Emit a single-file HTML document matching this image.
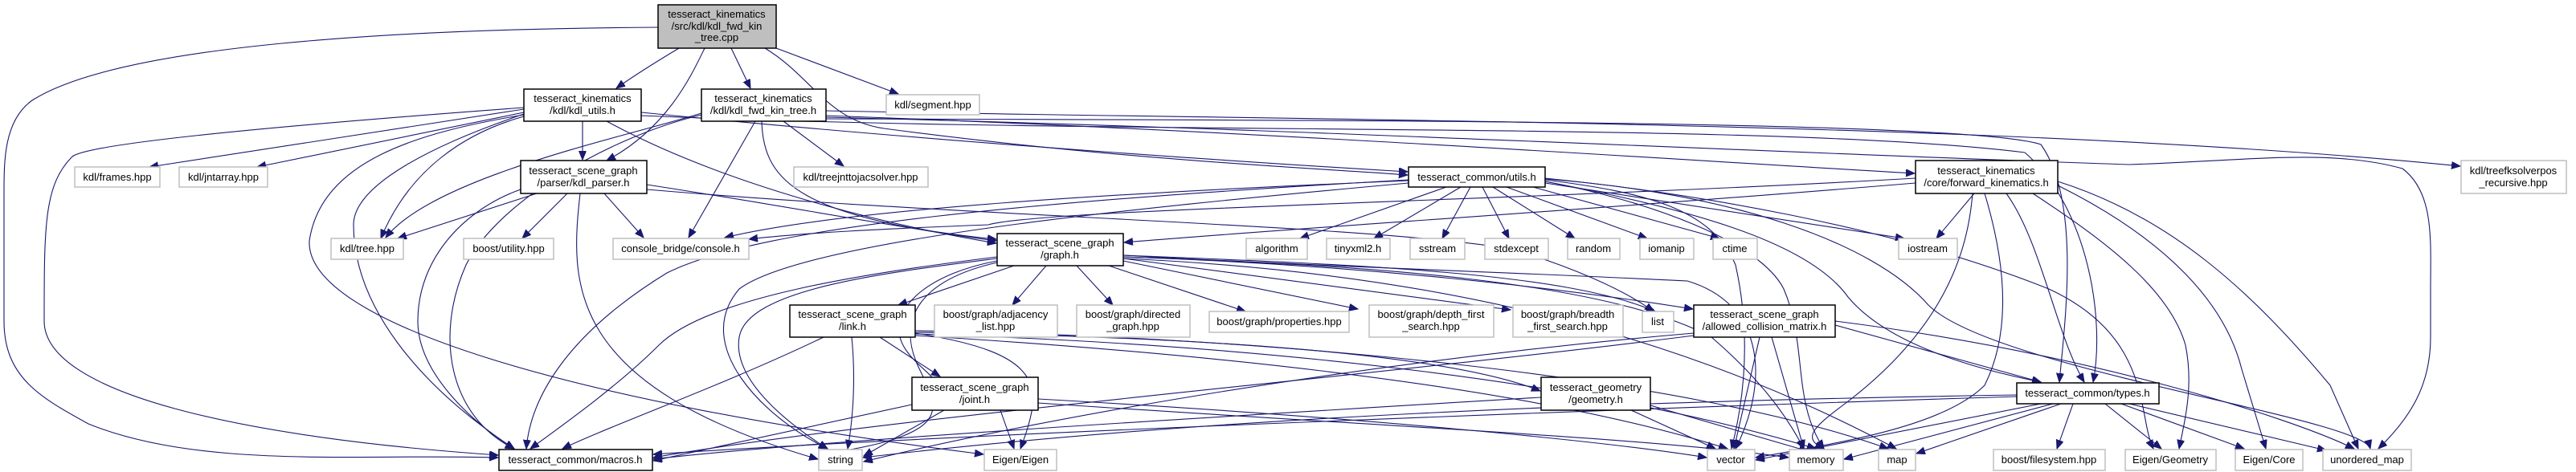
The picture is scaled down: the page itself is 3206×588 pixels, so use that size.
<!DOCTYPE html>
<html><head><meta charset="utf-8"><style>
html,body{margin:0;padding:0;background:#fff;}
svg{display:block;}
text{font-family:"Liberation Sans",sans-serif;font-size:13px;fill:#000;text-anchor:middle;}
.i{fill:#fff;stroke:#000;stroke-width:1.5;}
.e{fill:#fff;stroke:#bfbfbf;stroke-width:1.5;}
.r{fill:#bfbfbf;stroke:#000;stroke-width:1.5;}
path{fill:none;stroke:#191970;stroke-width:1.1;marker-end:url(#a);}
</style></head><body>
<svg width="3206" height="588" viewBox="0 0 3206 588" xmlns="http://www.w3.org/2000/svg">
<defs><marker id="a" markerUnits="userSpaceOnUse" markerWidth="12" markerHeight="10" refX="11" refY="4.5" orient="auto"><polygon points="0,0 11,4.5 0,9" fill="#191970" stroke="#191970"/></marker></defs>
<g>
<path d="M845,60 Q795,90 767,110"/>
<path d="M877,60 C860,95 830,160 755,200"/>
<path d="M910,60 L934,110"/>
<path d="M966,60 L1118,117"/>
<path d="M952,60 C1010,95 1030,150 1100,160 C1400,200 1650,210 1752,218"/>
<path d="M819,34 C500,36 150,55 40,125 C5,150 5,200 5,240 L5,400 C5,470 50,495 110,528 C250,585 450,565 620,570"/>
<path d="M652,136 L186,208"/>
<path d="M652,140 L320,208"/>
<path d="M725,151 L725,199"/>
<path d="M652,134 C300,160 110,180 90,195 C55,230 55,280 55,400 C55,490 300,545 620,567"/>
<path d="M652,145 C580,165 510,210 474,297"/>
<path d="M652,143 C520,165 400,200 385,300 C380,400 700,500 1224,566"/>
<path d="M755,151 C900,230 1100,280 1240,303"/>
<path d="M798,140 C1200,180 1600,205 1752,214"/>
<path d="M652,142 C540,180 440,230 440,280 C440,380 520,480 640,559"/>
<path d="M798,144 C1400,170 2200,150 2520,190 C2600,260 2620,400 2605,476"/>
<path d="M975,151 L1050,207"/>
<path d="M940,151 L857,296"/>
<path d="M948,151 C950,230 1000,270 1240,300"/>
<path d="M873,141 C780,170 540,220 480,296"/>
<path d="M873,143 C760,170 620,250 580,330 C540,420 560,520 640,559"/>
<path d="M1028,144 C1600,165 2100,200 2383,216"/>
<path d="M1028,138 C1600,150 2500,150 3062,207"/>
<path d="M1028,146 C1600,160 2200,190 2650,205 C2800,200 2900,185 2990,210 C3030,240 3025,300 3025,360 L3025,420 C3025,480 3000,520 2960,559"/>
<path d="M1028,148 C1700,150 2450,150 2540,180 C2590,250 2570,400 2563,476"/>
<path d="M668,241 L495,297"/>
<path d="M706,241 L650,297"/>
<path d="M752,241 L801,296"/>
<path d="M805,230 C1000,260 1150,290 1240,298"/>
<path d="M648,236 C580,260 520,320 520,400 C520,470 600,535 640,559"/>
<path d="M722,241 C710,350 700,480 1018,572"/>
<path d="M805,236 C1200,270 1700,280 1880,310 C1950,330 2020,360 2058,388"/>
<path d="M1800,233 L1618,297"/>
<path d="M1818,233 L1710,297"/>
<path d="M1830,233 L1795,297"/>
<path d="M1845,233 L1878,297"/>
<path d="M1858,233 L1960,297"/>
<path d="M1875,233 L2050,297"/>
<path d="M1908,233 L2140,297"/>
<path d="M1923,228 L2370,297"/>
<path d="M1753,225 C1400,240 1050,260 902,296"/>
<path d="M1753,224 C1300,250 950,280 830,340 C700,420 660,500 655,559"/>
<path d="M1753,228 C1400,260 1000,300 920,360 C860,430 950,520 1030,559"/>
<path d="M1923,224 C2050,240 2130,260 2160,330 C2180,420 2170,500 2155,559"/>
<path d="M1923,226 C2050,250 2190,300 2220,360 C2250,430 2230,500 2270,559"/>
<path d="M1923,223 C2150,240 2330,300 2400,380 C2480,460 2940,520 2950,559"/>
<path d="M1923,226 C2100,260 2250,300 2300,370 C2350,430 2460,460 2540,476"/>
<path d="M1923,222 C2100,240 2350,280 2550,360 C2680,420 2660,520 2680,559"/>
<path d="M2457,241 L2410,297"/>
<path d="M2384,222 C1900,250 1300,260 1230,280 C1100,285 1000,290 932,298"/>
<path d="M2384,228 C2000,260 1600,285 1399,302"/>
<path d="M2497,241 C2540,300 2560,420 2594,476"/>
<path d="M2470,241 C2500,340 2500,420 2470,480 C2420,530 2300,550 2185,570"/>
<path d="M2530,241 C2620,300 2700,360 2720,430 C2730,480 2720,520 2712,559"/>
<path d="M2561,231 C2700,300 2770,380 2790,460 L2820,559"/>
<path d="M2561,226 C2700,270 2800,360 2900,480 L2935,559"/>
<path d="M2455,241 C2450,300 2430,400 2300,500 C2260,530 2240,545 2270,559"/>
<path d="M1262,331 L1118,380"/>
<path d="M1302,331 L1260,380"/>
<path d="M1340,331 L1385,380"/>
<path d="M1380,331 L1550,388"/>
<path d="M1398,325 L1690,385"/>
<path d="M1398,322 L1880,386"/>
<path d="M1398,318 C1700,330 1950,340 2060,388"/>
<path d="M1398,320 C1700,330 1950,360 2107,385"/>
<path d="M1241,325 C1160,340 1110,380 1120,420 C1130,460 1200,480 1136,485"/>
<path d="M1241,322 C1100,340 930,360 920,420 C910,480 1000,540 1030,559"/>
<path d="M1241,320 C1080,340 880,370 820,430 C770,480 700,530 660,559"/>
<path d="M1241,327 C1140,350 1120,400 1140,450 C1160,500 1210,540 1020,566"/>
<path d="M1398,318 C1600,330 1900,340 2100,350 C2200,380 2200,480 2160,559"/>
<path d="M1398,320 C1700,330 2000,350 2130,420 C2200,480 2230,530 2245,559"/>
<path d="M1398,322 C1800,340 2100,420 2360,559"/>
<path d="M1095,420 L1170,469"/>
<path d="M1060,420 C1065,470 1062,520 1055,559"/>
<path d="M1025,420 C900,480 760,530 700,559"/>
<path d="M1139,415 C1300,440 1300,480 1270,559"/>
<path d="M1139,414 C1500,420 1800,440 1917,487"/>
<path d="M1139,418 C1500,440 1900,480 2150,559"/>
<path d="M1139,416 C1600,430 2000,480 2260,559"/>
<path d="M1139,412 C1600,420 2100,470 2350,559"/>
<path d="M1175,511 L1075,568"/>
<path d="M1245,511 L1262,559"/>
<path d="M1135,504 L813,574"/>
<path d="M1292,497 C1700,520 2000,550 2124,570"/>
<path d="M1292,502 C1700,530 2050,545 2226,570"/>
<path d="M2190,420 L2158,559"/>
<path d="M2205,420 L2245,559"/>
<path d="M2284,405 L2540,476"/>
<path d="M2284,400 C2600,440 2850,520 2930,559"/>
<path d="M2108,415 C1700,450 1300,520 1075,575"/>
<path d="M2108,418 C1700,470 1100,520 813,570"/>
<path d="M2030,511 L2135,559"/>
<path d="M2054,505 L2250,562"/>
<path d="M1918,495 C1500,520 1000,550 813,572"/>
<path d="M2580,503 L2560,559"/>
<path d="M2620,503 L2690,559"/>
<path d="M2640,503 L2793,559"/>
<path d="M2650,503 L2895,561"/>
<path d="M2540,503 L2185,573"/>
<path d="M2555,503 L2295,572"/>
<path d="M2565,503 L2385,565"/>
<path d="M2510,492 C2000,500 1500,520 1074,570"/>
<path d="M2510,494 C2000,510 1200,540 813,566"/>
</g>
<rect class="r" x="819" y="6" width="147" height="54"/>
<text x="892" y="22">tesseract_kinematics</text><text x="892" y="37">/src/kdl/kdl_fwd_kin</text><text x="892" y="51">_tree.cpp</text>
<rect class="i" x="652" y="111" width="146" height="40"/><text x="725" y="127">tesseract_kinematics</text><text x="725" y="142">/kdl/kdl_utils.h</text>
<rect class="i" x="873" y="111" width="155" height="40"/><text x="950" y="127">tesseract_kinematics</text><text x="950" y="142">/kdl/kdl_fwd_kin_tree.h</text>
<rect class="e" x="1103" y="118" width="116" height="25"/><text x="1161" y="135">kdl/segment.hpp</text>
<rect class="e" x="93" y="208" width="106" height="25"/><text x="146" y="225">kdl/frames.hpp</text>
<rect class="e" x="223" y="208" width="110" height="25"/><text x="278" y="225">kdl/jntarray.hpp</text>
<rect class="i" x="648" y="200" width="157" height="41"/><text x="726" y="217">tesseract_scene_graph</text><text x="726" y="232">/parser/kdl_parser.h</text>
<rect class="e" x="988" y="208" width="167" height="25"/><text x="1071" y="225">kdl/treejnttojacsolver.hpp</text>
<rect class="i" x="1753" y="208" width="170" height="25"/><text x="1838" y="225">tesseract_common/utils.h</text>
<rect class="i" x="2384" y="200" width="177" height="41"/><text x="2472" y="217">tesseract_kinematics</text><text x="2472" y="232">/core/forward_kinematics.h</text>
<rect class="e" x="3063" y="200" width="131" height="41"/><text x="3128" y="217">kdl/treefksolverpos</text><text x="3128" y="232">_recursive.hpp</text>
<rect class="e" x="412" y="297" width="90" height="26"/><text x="457" y="314">kdl/tree.hpp</text>
<rect class="e" x="577" y="297" width="112" height="26"/><text x="633" y="314">boost/utility.hpp</text>
<rect class="e" x="763" y="297" width="169" height="26"/><text x="847" y="314">console_bridge/console.h</text>
<rect class="i" x="1241" y="291" width="157" height="40"/><text x="1319" y="307">tesseract_scene_graph</text><text x="1319" y="322">/graph.h</text>
<rect class="e" x="1551" y="297" width="76" height="26"/><text x="1589" y="314">algorithm</text>
<rect class="e" x="1651" y="297" width="79" height="26"/><text x="1690" y="314">tinyxml2.h</text>
<rect class="e" x="1755" y="297" width="68" height="26"/><text x="1789" y="314">sstream</text>
<rect class="e" x="1848" y="297" width="79" height="26"/><text x="1887" y="314">stdexcept</text>
<rect class="e" x="1951" y="297" width="65" height="26"/><text x="1983" y="314">random</text>
<rect class="e" x="2041" y="297" width="67" height="26"/><text x="2074" y="314">iomanip</text>
<rect class="e" x="2132" y="297" width="55" height="26"/><text x="2159" y="314">ctime</text>
<rect class="e" x="2363" y="297" width="73" height="26"/><text x="2399" y="314">iostream</text>
<rect class="i" x="983" y="380" width="156" height="40"/><text x="1061" y="396">tesseract_scene_graph</text><text x="1061" y="411">/link.h</text>
<rect class="e" x="1163" y="380" width="153" height="40"/><text x="1239" y="396">boost/graph/adjacency</text><text x="1239" y="411">_list.hpp</text>
<rect class="e" x="1340" y="380" width="141" height="40"/><text x="1410" y="396">boost/graph/directed</text><text x="1410" y="411">_graph.hpp</text>
<rect class="e" x="1505" y="388" width="174" height="26"/><text x="1592" y="405">boost/graph/properties.hpp</text>
<rect class="e" x="1704" y="380" width="155" height="40"/><text x="1781" y="396">boost/graph/depth_first</text><text x="1781" y="411">_search.hpp</text>
<rect class="e" x="1883" y="380" width="137" height="40"/><text x="1951" y="396">boost/graph/breadth</text><text x="1951" y="411">_first_search.hpp</text>
<rect class="e" x="2044" y="388" width="39" height="26"/><text x="2063" y="405">list</text>
<rect class="i" x="2108" y="380" width="176" height="40"/><text x="2196" y="396">tesseract_scene_graph</text><text x="2196" y="411">/allowed_collision_matrix.h</text>
<rect class="i" x="1135" y="470" width="157" height="41"/><text x="1213" y="487">tesseract_scene_graph</text><text x="1213" y="502">/joint.h</text>
<rect class="i" x="1918" y="470" width="136" height="41"/><text x="1986" y="487">tesseract_geometry</text><text x="1986" y="502">/geometry.h</text>
<rect class="i" x="2510" y="477" width="177" height="26"/><text x="2598" y="494">tesseract_common/types.h</text>
<rect class="i" x="621" y="560" width="191" height="26"/><text x="716" y="577">tesseract_common/macros.h</text>
<rect class="e" x="1019" y="560" width="54" height="26"/><text x="1046" y="577">string</text>
<rect class="e" x="1225" y="560" width="90" height="26"/><text x="1270" y="577">Eigen/Eigen</text>
<rect class="e" x="2125" y="560" width="59" height="26"/><text x="2154" y="577">vector</text>
<rect class="e" x="2227" y="560" width="67" height="26"/><text x="2260" y="577">memory</text>
<rect class="e" x="2338" y="560" width="46" height="26"/><text x="2361" y="577">map</text>
<rect class="e" x="2481" y="560" width="139" height="26"/><text x="2550" y="577">boost/filesystem.hpp</text>
<rect class="e" x="2645" y="560" width="113" height="26"/><text x="2701" y="577">Eigen/Geometry</text>
<rect class="e" x="2782" y="560" width="84" height="26"/><text x="2824" y="577">Eigen/Core</text>
<rect class="e" x="2891" y="560" width="110" height="26"/><text x="2946" y="577">unordered_map</text>
</svg>
</body></html>
